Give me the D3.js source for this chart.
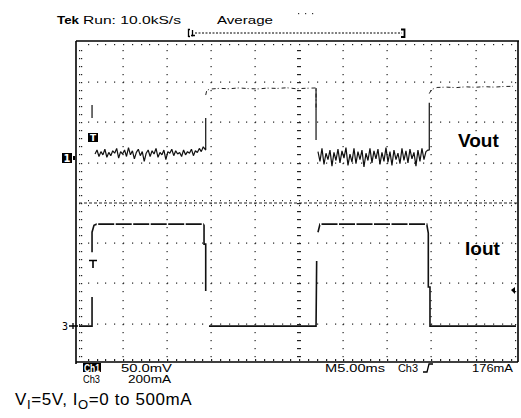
<!DOCTYPE html>
<html><head><meta charset="utf-8">
<script src="https://cdn.jsdelivr.net/npm/d3@7"></script>
<style>
html,body{margin:0;padding:0;background:#fff;}
svg{display:block;}
</style></head>
<body>
<script>
// ---------- data ----------
const headerTexts = ["Tek", "Run: 10.0kS/s", "Average"];
const readoutsLeft = ["Ch1", "50.0mV", "Ch3", "200mA"];
const readoutsRight = ["M5.00ms", "Ch3", "176mA"];
const seriesLabels = ["Vout", "Iout"];
const caption = ["V", "I", "=5V, I", "O", "=0 to 500mA"];

// time in ms (5 ms/div, 0 = screen centre); Ch1 in mV (50 mV/div); Ch3 in mA (200 mA/div)
const timeDomain = [-25, 25];
const ch1Offset = 1.11;   // divisions above centre
const ch3Offset = -3.06;  // divisions below centre

const ioutPts = [
  [-25, 0], [-23.52, 0], [-23.52, 144], [-23.52, null],
  [-23.52, 367], [-23.52, 466], [-23.3, 500], [-22.99, 506], [-10.9, 506], [-10.81, 500],
  [-10.81, 407], [-10.62, 407], [-10.62, 174], [-10.62, null],
  [-10.25, 0], [1.90, 0], [1.97, 323], [1.97, null],
  [2.12, 466], [2.35, 506], [14.46, 506], [14.64, 462], [14.64, 194], [14.83, 194],
  [14.83, 0], [15.06, 0], [24.59, 0]
];

const voutLead = [[-23.52, 65.8], [-23.52, 49.6]];
const noise1Span = [-23.18, -10.9];
const noise1 = [5,10,2,8,4,11,1,7,3,9,6,12,0,8,5,10,2,13,4,9,-1,7,11,3,8,-4,6,10,2,9,5,12,1,7,4,10,-2,8,6,11,3,9,5,7,2,10,4,8,6,11,3,9,7,12,8,14];
const rise1 = [[-10.62, 9.9], [-10.62, 49.6], [-10.62, null], [-10.62, 78.2], [-10.5, 84], [-10.14, 85.6]];
const high1Span = [-10.14, 1.85];
const high1 = [85.6, 86.5, 86, 87, 86.2, 85.8, 86.8, 86.4, 87.2, 86, 86.6, 87];
const fall1 = [[1.90, 86.8], [1.90, 22.3], [1.90, null]];
const noise2Span = [2.12, 14.6];
const noise2 = [8,-4,12,-8,6,-2,10,-10,7,-3,11,-6,9,0,13,-9,5,-5,12,-7,8,-2,10,-11,6,-3,12,-6,9,-1,11,-8,7,-4,13,-5,8,-9,10,-2,6,-7,12,-3,9,-6,11,-1,7,-10,10,-4,12,-2,8,10];
const rise2 = [[14.75, 9.9], [14.75, 68.6], [14.75, null], [14.75, 80], [15.0, 85], [15.63, 87.6]];
const high2Span = [15.63, 24.25];
const high2 = [87.6, 88, 87.4, 88.4, 87.8, 88.6, 88, 88.8, 89];

// ---------- layout ----------
const W = 521, H = 418;
const X0 = 79, X1 = 519.6, Y0 = 41.6, Y1 = 364.0;
const FL = 76, FR = 518, FT = 41, FB = 362;

const svg = d3.select("body").append("svg").attr("width", W).attr("height", H);
const x = d3.scaleLinear().domain(timeDomain).range([X0, X1]);
const yDiv = d3.scaleLinear().domain([-4, 4]).range([Y1, Y0]);
const y1 = v => yDiv(ch1Offset + v / 50);
const y3 = v => yDiv(ch3Offset + v / 200);

// sampled segments -> points
function sampled(span, vals) {
  const t = d3.scaleLinear().domain([0, vals.length - 1]).range(span);
  return vals.map((v, i) => [t(i), v]);
}
const voutLow = [].concat(voutLead, [[-23.52, null]], sampled(noise1Span, noise1), rise1.slice(0, 3),
  [[1.90, 22.3]].slice(0, 0), fall1.slice(1), sampled(noise2Span, noise2), rise2.slice(0, 3));
const voutHigh = [].concat(rise1.slice(3), sampled(high1Span, high1), [fall1[0], [1.90, 60]], [[1.9, null]],
  rise2.slice(3), sampled(high2Span, high2));

// ---------- graticule ----------
const g = svg.append("g");
const divX = (X1 - X0) / 10, divY = (Y1 - Y0) / 8;
const dotCol = "#222";
for (let k = 1; k < 10; k++) {
  if (k === 5) continue;
  const xx = X0 + k * divX;
  for (let j = 1; j < 40; j++) {
    g.append("rect").attr("x", Math.round(xx) - 0.5).attr("y", Math.round(Y0 + j * divY / 5))
      .attr("width", 1.2).attr("height", 1.2).attr("fill", dotCol);
  }
}
for (let k = 1; k < 8; k++) {
  if (k === 4) continue;
  const yy = Y0 + k * divY;
  for (let j = 1; j < 50; j++) {
    g.append("rect").attr("x", Math.round(X0 + j * divX / 5)).attr("y", Math.round(yy) - 0.5)
      .attr("width", 1.2).attr("height", 1.2).attr("fill", dotCol);
  }
}
const cy = Math.round(Y0 + 4 * divY);
g.append("line").attr("x1", X0).attr("x2", FR).attr("y1", cy).attr("y2", cy)
  .attr("stroke", "#222").attr("stroke-width", 1).attr("stroke-dasharray", "3,2");
for (let j = 1; j < 50; j++) {
  const xx = Math.round(X0 + j * divX / 5);
  g.append("rect").attr("x", xx).attr("y", cy - 3).attr("width", 1).attr("height", 1.2).attr("fill", dotCol);
  g.append("rect").attr("x", xx).attr("y", cy + 2).attr("width", 1).attr("height", 1.2).attr("fill", dotCol);
}
const cx = Math.round(X0 + 5 * divX);
for (let j = 1; j < 40; j++) {
  const yy = Math.round(Y0 + j * divY / 5);
  g.append("rect").attr("x", cx - 2).attr("y", yy).attr("width", 4).attr("height", 1.2).attr("fill", dotCol);
}
for (let j = 1; j < 40; j++) {
  const yy = Math.round(Y0 + j * divY / 5);
  g.append("rect").attr("x", FL + 3).attr("y", yy).attr("width", 1.2).attr("height", 1.2).attr("fill", dotCol);
  g.append("rect").attr("x", FL + 5).attr("y", yy).attr("width", 1.2).attr("height", 1.2).attr("fill", dotCol);
  g.append("rect").attr("x", FR - 3).attr("y", yy).attr("width", 1.2).attr("height", 1.2).attr("fill", dotCol);
}
for (let j = 1; j < 50; j++) {
  const xx = Math.round(X0 + j * divX / 5);
  g.append("rect").attr("x", xx).attr("y", FT + 3).attr("width", 1.2).attr("height", 1.2).attr("fill", dotCol);
  g.append("rect").attr("x", xx).attr("y", FB - 3).attr("width", 1.2).attr("height", 2).attr("fill", dotCol);
}
const frame = svg.append("g").attr("stroke", "#000").attr("stroke-width", 1.6).attr("fill", "none");
frame.append("line").attr("x1", FL).attr("x2", FR + 1).attr("y1", FT).attr("y2", FT);
frame.append("line").attr("x1", FL).attr("x2", FL).attr("y1", FT).attr("y2", FB + 2);
frame.append("line").attr("x1", FR).attr("x2", FR).attr("y1", FT).attr("y2", FB);
frame.append("line").attr("x1", FL).attr("x2", FR).attr("y1", FB).attr("y2", FB);

// ---------- traces ----------
const line3 = d3.line().defined(d => d[1] != null).x(d => x(d[0])).y(d => y3(d[1]));
const line1 = d3.line().defined(d => d[1] != null).x(d => x(d[0])).y(d => y1(d[1]));
svg.append("path").datum(ioutPts).attr("d", line3).attr("fill", "none")
  .attr("stroke", "#111").attr("stroke-width", 1.6);
// dashed look of the Iout top level (screen capture artefact)
[[-22.99, -10.9], [2.35, 14.46]].forEach(s => {
  svg.append("path").datum([[s[0], 506], [s[1], 506]]).attr("d", line3).attr("fill", "none")
    .attr("stroke", "#fff").attr("stroke-width", 2.2).attr("stroke-dasharray", "1.5,16");
});
svg.append("path").datum(voutLow).attr("d", line1).attr("fill", "none")
  .attr("stroke", "#111").attr("stroke-width", 1.2).attr("stroke-linejoin", "bevel");
svg.append("path").datum(voutHigh).attr("d", line1).attr("fill", "none")
  .attr("stroke", "#222").attr("stroke-width", 1).attr("stroke-dasharray", "4,2,1,3");
svg.append("path").datum([[1.90, 86.8], [1.90, 22.3]]).attr("d", line1).attr("fill", "none")
  .attr("stroke", "#111").attr("stroke-width", 1.2);

// ---------- markers ----------
const mk = svg.append("g");
const g1 = Math.round(y1(0));
mk.append("rect").attr("x", 62).attr("y", g1 - 5).attr("width", 10).attr("height", 10).attr("fill", "#000");
mk.append("text").attr("x", 67).attr("y", g1 + 4).attr("text-anchor", "middle").attr("fill", "#fff")
  .attr("font-family", "DejaVu Sans").attr("font-weight", "bold").attr("font-size", 10).text("1");
mk.append("rect").attr("x", 73).attr("y", g1 - 2).attr("width", 2).attr("height", 4).attr("fill", "#000");
mk.append("rect").attr("x", 88).attr("y", 133).attr("width", 10).attr("height", 9).attr("fill", "#000");
mk.append("text").attr("x", 93).attr("y", 141).attr("text-anchor", "middle").attr("fill", "#fff")
  .attr("font-family", "DejaVu Sans").attr("font-weight", "bold").attr("font-size", 9).text("T");
mk.append("path").attr("d", "M89,260.5H97M93,260.5V268").attr("stroke", "#000").attr("stroke-width", 1.6).attr("fill", "none");
const g3 = Math.round(y3(0));
mk.append("text").attr("x", 62).attr("y", g3 + 4).attr("font-family", "DejaVu Sans Mono")
  .attr("font-size", 10).attr("fill", "#000").text("3");
mk.append("path").attr("d", `M69,${g3}H${FL + 2}M73,${g3 - 3}V${g3 + 3}`).attr("stroke", "#000").attr("stroke-width", 1.3);
mk.append("path").attr("d", "M511,290L515,287L515,294Z").attr("fill", "#000");

// ---------- header ----------
const hf = "Liberation Sans";
svg.append("text").attr("x", 57).attr("y", 24).attr("font-family", hf).attr("font-weight", "bold")
  .attr("font-size", 11).attr("textLength", 22).attr("lengthAdjust", "spacingAndGlyphs").text(headerTexts[0]);
svg.append("text").attr("x", 83).attr("y", 24).attr("font-family", hf)
  .attr("font-size", 11).attr("textLength", 98).attr("lengthAdjust", "spacingAndGlyphs").text(headerTexts[1]);
svg.append("text").attr("x", 217).attr("y", 24).attr("font-family", hf)
  .attr("font-size", 11).attr("textLength", 56).attr("lengthAdjust", "spacingAndGlyphs").text(headerTexts[2]);
[298, 305, 312].forEach(xx => svg.append("rect").attr("x", xx).attr("y", 13).attr("width", 1.2).attr("height", 1.2).attr("fill", "#333"));
const br = svg.append("g").attr("stroke", "#000").attr("fill", "none");
br.append("path").attr("d", "M190,29.5H188.5V37M188.5,36.5H190").attr("stroke-width", 1.3);
br.append("path").attr("d", "M192.5,30V36.5M191,35.5H195").attr("stroke-width", 1.3);
br.append("line").attr("x1", 195).attr("x2", 402).attr("y1", 33).attr("y2", 33)
  .attr("stroke-width", 1).attr("stroke-dasharray", "2,1.5");
br.append("path").attr("d", "M401,29.5H404.5V37H401").attr("stroke-width", 1.8);

// ---------- readouts ----------
const rf = "Liberation Sans";
svg.append("rect").attr("x", 83).attr("y", 363).attr("width", 18).attr("height", 9).attr("fill", "#000");
svg.append("text").attr("x", 84).attr("y", 371.5).attr("font-family", rf).attr("font-weight", "bold").attr("fill", "#fff")
  .attr("font-size", 10).attr("textLength", 16).attr("lengthAdjust", "spacingAndGlyphs").text(readoutsLeft[0]);
svg.append("text").attr("x", 121).attr("y", 371.5).attr("font-family", rf).attr("font-size", 10)
  .attr("textLength", 51).attr("lengthAdjust", "spacingAndGlyphs").text(readoutsLeft[1]);
svg.append("text").attr("x", 83).attr("y", 382.5).attr("font-family", rf).attr("font-size", 10)
  .attr("textLength", 17).attr("lengthAdjust", "spacingAndGlyphs").text(readoutsLeft[2]);
svg.append("text").attr("x", 128).attr("y", 382.5).attr("font-family", rf).attr("font-size", 10)
  .attr("textLength", 43).attr("lengthAdjust", "spacingAndGlyphs").text(readoutsLeft[3]);
svg.append("text").attr("x", 325).attr("y", 371.5).attr("font-family", rf).attr("font-size", 10)
  .attr("textLength", 60).attr("lengthAdjust", "spacingAndGlyphs").text(readoutsRight[0]);
svg.append("text").attr("x", 398).attr("y", 371.5).attr("font-family", rf).attr("font-size", 10)
  .attr("textLength", 20).attr("lengthAdjust", "spacingAndGlyphs").text(readoutsRight[1]);
svg.append("path").attr("d", "M423,372H427L429,364H433").attr("stroke", "#000").attr("stroke-width", 1.3).attr("fill", "none");
svg.append("text").attr("x", 472).attr("y", 371.5).attr("font-family", rf).attr("font-size", 10)
  .attr("textLength", 41).attr("lengthAdjust", "spacingAndGlyphs").text(readoutsRight[2]);

// ---------- series labels ----------
svg.append("text").attr("x", 458).attr("y", 147).attr("font-family", "Liberation Sans").attr("font-weight", "bold")
  .attr("font-size", 19).text(seriesLabels[0]);
svg.append("text").attr("x", 465).attr("y", 255).attr("font-family", "Liberation Sans").attr("font-weight", "bold")
  .attr("font-size", 19).text(seriesLabels[1]);

// ---------- caption ----------
const cap = svg.append("text").attr("x", 15).attr("y", 405).attr("font-family", "Liberation Sans")
  .attr("font-size", 17).attr("letter-spacing", 0.6).attr("fill", "#000");
cap.append("tspan").text(caption[0]);
cap.append("tspan").attr("dy", 4).attr("font-size", 13).text(caption[1]);
cap.append("tspan").attr("dy", -4).text(caption[2]);
cap.append("tspan").attr("dy", 4).attr("font-size", 13).text(caption[3]);
cap.append("tspan").attr("dy", -4).text(caption[4]);
</script>
</body></html>
